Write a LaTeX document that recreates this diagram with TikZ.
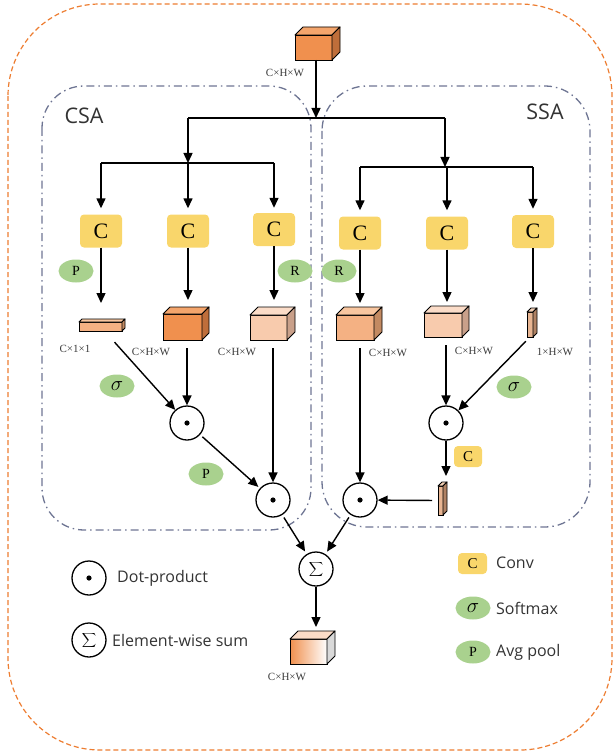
\documentclass[tikz,border=0pt]{standalone}
\usepackage{fontspec}
\setmainfont{Liberation Serif}
\setsansfont{Open Sans}
\usetikzlibrary{arrows.meta,shapes.geometric,calc}

\definecolor{frameor}{HTML}{ED7D31}
\definecolor{slate}{HTML}{6E7593}
\definecolor{convy}{HTML}{F9D66B}
\definecolor{grn}{HTML}{A9D18E}
% tensor colours: front / top / side
\definecolor{orF}{HTML}{F0904E}\definecolor{orT}{HTML}{F4A56C}\definecolor{orS}{HTML}{BF6E3A}
\definecolor{peF}{HTML}{F4B183}\definecolor{peT}{HTML}{F8C6A0}\definecolor{peS}{HTML}{C38A62}
\definecolor{ltF}{HTML}{F8CBAD}\definecolor{ltT}{HTML}{FBDCC8}\definecolor{ltS}{HTML}{C9A08A}
\definecolor{slF}{HTML}{E8B592}\definecolor{slT}{HTML}{F3D0B6}\definecolor{slS}{HTML}{B08264}
\definecolor{dimtxt}{HTML}{3A3A3A}

% top and side faces of a tensor drawn on a front-face node
\newcommand\tensordepth[4]{%
  \filldraw[fill=#3,line width=0.9,line join=round] (#1.north west) -- ++(#2,-#2)
    -- ($(#1.north east)+(#2,-#2)$) -- (#1.north east) -- cycle;
  \filldraw[fill=#4,line width=0.9,line join=round] (#1.north east) -- ++(#2,-#2)
    -- ($(#1.south east)+(#2,-#2)$) -- (#1.south east) -- cycle;}

\begin{document}
\begin{tikzpicture}[x=1pt,y=-1pt,
  arr/.style={draw,line width=1.4,-{Triangle[length=10,width=9]}},
  wire/.style={draw,line width=1.4},
  conv/.style={fill=convy,rounded corners=4,minimum width=42,minimum height=33,inner sep=0,
    font=\fontsize{22}{22}\selectfont},
  convsm/.style={conv,minimum width=28,minimum height=21,font=\fontsize{15}{15}\selectfont},
  op/.style={circle,draw,line width=1.3,minimum size=34,inner sep=0},
  tag/.style={ellipse,fill=grn,minimum width=35,minimum height=23,inner sep=0,
    font=\fontsize{14}{14}\selectfont},
  sig/.style={tag,font=\fontsize{21}{21}\selectfont},
  tensor/.style={draw,line width=0.9,rectangle,inner sep=0,outer sep=0},
  dim/.style={font=\fontsize{11}{11}\selectfont,text=dimtxt,inner sep=0},
  legtxt/.style={font=\sffamily\fontsize{16}{16}\selectfont,text=black!80,anchor=west,inner sep=0},
  grouptxt/.style={font=\sffamily\fontsize{21.5}{21.5}\selectfont,text=black!80,inner sep=0},
  frame/.style={draw=frameor,line width=1.2,dash pattern=on 5 off 3,rounded corners=92},
  group/.style={draw=slate,line width=1.3,dash pattern=on 8 off 4 on 1.5 off 4}
]
\useasboundingbox (0,0) rectangle (615,754);

% outer frame and the two attention groups
\path[frame] (8,4) rectangle (612,750);
\path[group,rounded corners=42] (42,86) rectangle (311,530);
\path[group,rounded corners=45] (322,86) rectangle (590,527);
\node[grouptxt] (csa) at (84,116) {CSA};
\node[grouptxt] (ssa) at (545,112) {SSA};

% input tensor
\node[tensor,fill=orF,minimum width=37,minimum height=25] (t0) at (313.5,47.5) {};
\tensordepth{t0}{8}{orT}{orS}
\node[dim] (t0l) at (285,73) {C×H×W};

% splitting into the two groups
\coordinate (j0) at (316,118);
\coordinate (jL) at (188,118);
\coordinate (jR) at (445,118);
\coordinate (kL) at (188,163);
\coordinate (kL1) at (101,163);
\coordinate (kL3) at (274,163);
\coordinate (kR) at (445,167);
\coordinate (kR1) at (360,167);
\coordinate (kR2) at (446,167);
\coordinate (kR3) at (533,167);

\draw[arr] (t0.south -| j0) -- (j0);
\draw[wire] (jL) -- (jR);
\draw[arr] (jL) -- (kL);
\draw[arr] (jR) -- (kR);
\draw[wire] (kL1) -- (kL3);
\draw[wire] (kR1) -- (kR3);

% convolutions
\node[conv] (cA1) at (101,231) {C};
\node[conv] (cA2) at (188,231) {C};
\node[conv] (cA3) at (274,229.5) {C};
\node[conv] (cB1) at (360,233) {C};
\node[conv] (cB2) at (447,233) {C};
\node[conv] (cB3) at (533,231.5) {C};

\draw[arr,shorten >=6] (kL1) -- (cA1);
\draw[arr,shorten >=6] (kL) -- (cA2);
\draw[arr,shorten >=5] (kL3) -- (cA3);
\draw[arr,shorten >=6] (kR1) -- (cB1);
\draw[arr,shorten >=6] (kR2) -- (cB2 |- kR2) -- (cB2);
\draw[arr,shorten >=6] (kR3) -- (cB3);

% operation tags
\node[tag] (p1) at (76,271) {P};
\node[tag] (r1) at (295,271) {R};
\node[tag] (r2) at (339,271) {R};

% tensors after the convolutions
\node[tensor,fill=peF,minimum width=43,minimum height=9] (s1) at (100.5,326.5) {};
\tensordepth{s1}{3}{peT}{peS}
\node[tensor,fill=orF,minimum width=39,minimum height=26] (q2) at (182.5,327) {};
\tensordepth{q2}{7}{orT}{orS}
\node[tensor,fill=ltF,minimum width=37,minimum height=25] (q3) at (268.5,327.5) {};
\tensordepth{q3}{8}{ltT}{ltS}
\node[tensor,fill=peF,minimum width=38,minimum height=25] (q4) at (355,327.5) {};
\tensordepth{q4}{8}{peT}{peS}
\node[tensor,fill=ltF,minimum width=38,minimum height=24] (q5) at (443,325) {};
\tensordepth{q5}{7}{ltT}{ltS}
\node[tensor,fill=slF,minimum width=6,minimum height=25] (s6) at (530,324.5) {};
\tensordepth{s6}{4}{slT}{slS}

\node[dim] (s1l) at (75,349) {C×1×1};
\node[dim] (q2l) at (151,352) {C×H×W};
\node[dim] (q3l) at (237,352) {C×H×W};
\node[dim] (q4l) at (388,353) {C×H×W};
\node[dim] (q5l) at (474,351) {C×H×W};
\node[dim] (s6l) at (555,352) {1×H×W};

\draw[arr,shorten >=19] (cA1) -- (cA1 |- s1.north);
\draw[arr,shorten >=14] (cA2) -- (cA2 |- q2.north);
\draw[arr,shorten >=15] (cA3) -- (cA3 |- q3.north);
\draw[arr,shorten >=12] (cB1) -- (cB1 |- q4.north);
\draw[arr,shorten >=11] (cB2) -- (cB2 |- q5.north);
\draw[arr,shorten >=10] (cB3) -- (cB3 |- s6.north);

% dot products
\node[op] (d1) at (187,423) {};
\node[op] (d2) at (273,500) {};
\node[op] (d3) at (446,423) {};
\node[op] (d4) at (360,500) {};
\foreach \d in {d1,d2,d3,d4} \fill (\d) circle (2.6);

\node[sig] (g1) at (117,386) {$\sigma$};
\node[tag] (p2) at (206,474) {P};
\node[sig] (g2) at (514,387) {$\sigma$};

\draw[arr,shorten <=15] (s1) -- (d1);
\draw[arr,shorten <=8] (q2.south -| d1) -- (d1);
\draw[arr,shorten <=8] (q3.south -| d2) -- (d2);
\draw[arr,shorten <=3,shorten >=2] (d1) -- (d2);
\draw[arr,shorten <=8] (q4.south -| d4) -- (d4);
\draw[arr,shorten <=8] (q5.south -| d3) -- (d3);
\draw[arr,shorten <=6] (s6.south) -- (d3);

% spatial branch: convolution to a thin map
\node[tensor,fill=slF,minimum width=5,minimum height=29] (s7) at (440.5,500.5) {};
\tensordepth{s7}{4}{slT}{slS}
\node[convsm] (cs) at (468,456.5) {C};
\draw[arr,shorten >=10] (d3) -- (d3 |- s7.north);
\draw[arr,shorten <=6] (s7.west) -- (d4);

% element-wise sum and output
\node[op] (sm) at (316,569) {\fontsize{15}{15}\selectfont$\displaystyle\sum$};
\draw[arr,shorten <=3,shorten >=3] (d2) -- (sm);
\draw[arr,shorten <=3,shorten >=3] (d4) -- (sm);

\node[tensor,minimum width=37,minimum height=25,left color=orF,right color=white] (o) at (308.5,651.5) {};
\tensordepth{o}{8}{ltT}{black!15}
\draw[arr,shorten >=12] (sm) -- (sm |- o.north);
\node[dim] (ol) at (287,677) {C×H×W};

% legend
\node[op] (l1) at (89,578) {};
\fill (l1) circle (2.6);
\node[legtxt] (l1t) at (117,578) {Dot-product};
\node[op] (l2) at (89,640) {\fontsize{15}{15}\selectfont$\displaystyle\sum$};
\node[legtxt] (l2t) at (112,640) {Element-wise sum};

\node[convsm,minimum width=29] (lc) at (472.5,563.5) {C};
\node[legtxt] (lct) at (496,563) {Conv};
\node[sig] (ls) at (473,608) {$\sigma$};
\node[legtxt] (lst) at (496,608) {Softmax};
\node[tag] (lp) at (473,652) {P};
\node[legtxt] (lpt) at (496,652) {Avg pool};
\end{tikzpicture}
\end{document}
